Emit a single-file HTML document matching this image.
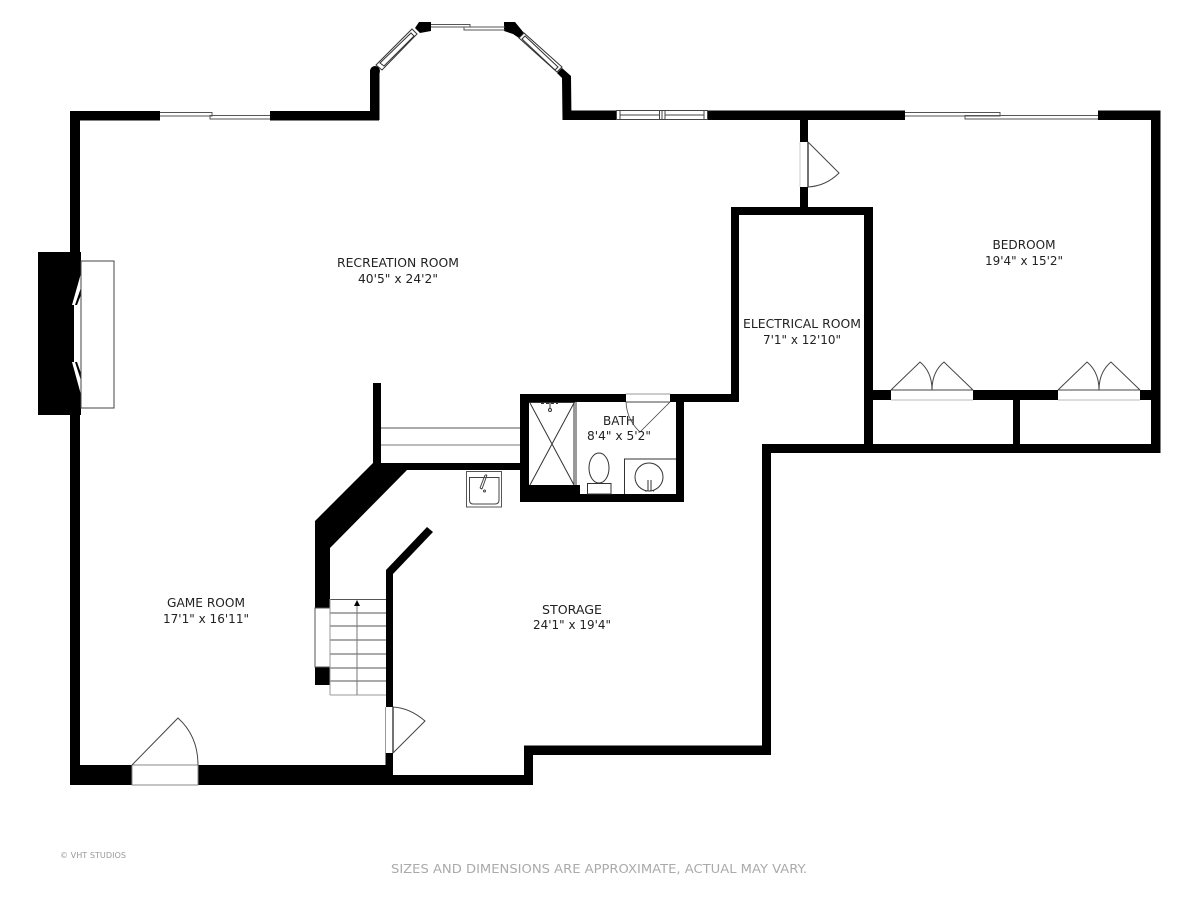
<!DOCTYPE html>
<html>
<head>
<meta charset="utf-8">
<style>
html,body{margin:0;padding:0;background:#fff;}
svg{display:block;}
text{font-family:"DejaVu Sans","Liberation Sans",sans-serif;font-size:12px;fill:#222;}
</style>
</head>
<body>
<svg width="1200" height="900" viewBox="0 0 1200 900" xmlns="http://www.w3.org/2000/svg">
<rect width="1200" height="900" fill="#fff"/>

<!-- black walls -->
<g fill="#000">
  <rect x="70" y="111" width="90" height="9.5"/>
  <rect x="270" y="111" width="109" height="9.5"/>
  <rect x="70" y="111" width="10" height="674"/>
  <rect x="370" y="70" width="9.5" height="50"/>
  <circle cx="375" cy="71" r="5"/>
  <polygon points="415,28 419,22 431,22 431,31 420,33"/>
  <polygon points="504,22 515,22 524,33 519,38 513,34 504,31"/>
  <polygon points="562,68 571,76 571.5,120 562.5,120 562,78 557,73"/>
  <rect x="562.5" y="110.5" width="54" height="9.5"/>
  <rect x="708" y="110.5" width="197" height="9.5"/>
  <rect x="1098" y="110.5" width="62" height="9.5"/>
  <rect x="1151" y="110.5" width="9.5" height="342.5"/>
  <rect x="762" y="444" width="398.500" height="9"/>
  <rect x="762" y="444" width="9" height="311"/>
  <rect x="524" y="745.500" width="247" height="9.500"/>
  <rect x="524" y="745.500" width="9" height="39.500"/>
  <rect x="386" y="775" width="147" height="10"/>
  <rect x="70" y="765" width="62" height="20"/>
  <rect x="198" y="765" width="195" height="20"/>
  <rect x="385.500" y="753" width="7.500" height="22"/>
  <rect x="386" y="573" width="7" height="134"/>
  <polygon points="386,570 427,527 433,532 393,574 393,580 386,580"/>

  <!-- door stub walls -->
  <rect x="800" y="120" width="8" height="22"/>
  <rect x="800" y="187" width="8" height="21"/>
  <!-- electrical -->
  <rect x="731" y="207" width="142" height="8"/>
  <rect x="731" y="207" width="8" height="195"/>
  <rect x="864" y="207" width="9" height="246"/>
  <!-- bedroom closets -->
  <rect x="873" y="390" width="18" height="10"/>
  <rect x="973" y="390" width="85" height="10"/>
  <rect x="1140" y="390" width="12" height="10"/>
  <rect x="1013" y="400" width="7" height="44"/>
  <!-- bath -->
  <rect x="520" y="394" width="106" height="8"/>
  <rect x="670" y="394" width="69" height="8"/>
  <rect x="520" y="394" width="9" height="108"/>
  <rect x="676" y="394" width="8" height="108"/>
  <rect x="520" y="494" width="164" height="8"/>
  <rect x="529" y="485" width="51" height="9"/>
  <!-- stair landing walls -->
  <rect x="373" y="383" width="8" height="82"/>
  <rect x="373" y="463" width="147" height="7"/>
  <polygon points="315,521 373,463 407,470 330,548 330,608 315,608"/>
  <rect x="315" y="667" width="15" height="18"/>
  <!-- fireplace -->
  <polygon points="38,252 81,252 81,415 38,415"/>
</g>

<!-- fireplace -->
<rect x="81" y="261" width="33" height="147" fill="#fff" stroke="#444" stroke-width="1"/>
<polygon points="80.500,275 72,305 74,305 74,362 72,362 80.500,393" fill="#fff"/>
<polygon points="80.500,289 75,305 77,305 80.500,296" fill="#000"/>
<polygon points="80.500,379 75,362 77,362 80.500,372" fill="#000"/>

<!-- windows: top -->
<g fill="none" stroke="#555" stroke-width="1">
  <polyline points="160,112.500 212,112.500 212,116 160,116"/>
  <polyline points="270,119 210,119 210,115.500 270,115.500"/>
  <polyline points="431,24.500 470,24.500 470,27 431,27"/>
  <polyline points="505,30 464,30 464,27 505,27"/>
  <polyline points="905,112.500 1000,112.500 1000,116 905,116"/>
  <polyline points="1098,119 965,119 965,115.500 1098,115.500"/>
</g>
<!-- bay windows diagonal -->
<g fill="#fff" stroke="#333" stroke-width="1">
  <polygon points="376,65 412,29 417,34 382,70"/>
  <polygon points="380,63 411,33 414,36 384,66" fill="none"/>
  <polygon points="519,38 524,33 562,67 557,72"/>
  <polygon points="522,39 525,36 558,67 555,70" fill="none"/>
</g>
<!-- fixed window -->
<g fill="#fff" stroke="#444" stroke-width="1">
  <rect x="616.500" y="110.500" width="91" height="9"/>
</g>
<g fill="none" stroke="#444" stroke-width="1">
  <line x1="620" y1="110.500" x2="620" y2="119.500"/>
  <line x1="704" y1="110.500" x2="704" y2="119.500"/>
  <line x1="659.500" y1="110.500" x2="659.500" y2="119.500"/>
  <line x1="662" y1="110.500" x2="662" y2="119.500"/>
  <line x1="665" y1="110.500" x2="665" y2="119.500"/>
  <line x1="620" y1="115" x2="659" y2="115"/>
  <line x1="665" y1="115" x2="704" y2="115"/>
</g>

<!-- doors -->
<g fill="none" stroke="#444" stroke-width="1">
  <!-- entry -->
  <rect x="132" y="765" width="66" height="20" fill="#fff" stroke="#888"/>
  <path d="M132,765 L178,718 Q198,736 198,765"/>
  <!-- storage -->
  <line x1="393" y1="707" x2="393" y2="753" stroke-width="1.500"/>
  <line x1="385.500" y1="707" x2="385.500" y2="753" stroke="#999"/>
  <path d="M393,753 L425,721 Q410,708 393,707"/>
  <!-- bedroom -->
  <line x1="808" y1="142" x2="808" y2="187" stroke-width="1.500"/>
  <line x1="800" y1="142" x2="800" y2="187" stroke="#ccc"/>
  <path d="M808,142 L839,173 Q826,186 808,187"/>
  <!-- bath -->
  <line x1="626" y1="402" x2="670" y2="402"/>
  <line x1="626" y1="394" x2="670" y2="394" stroke="#999"/>
  <path d="M670,402 L640,432 Q627,420 626,402" stroke-width="0.800"/>
  <!-- closets -->
  <line x1="891" y1="390" x2="973" y2="390"/>
  <line x1="891" y1="400" x2="973" y2="400" stroke="#bbb"/>
  <path d="M891,390 L920,362 Q932,372 932,390 Q932,372 944,362 L973,390"/>
  <line x1="1058" y1="390" x2="1140" y2="390"/>
  <line x1="1058" y1="400" x2="1140" y2="400" stroke="#bbb"/>
  <path d="M1058,390 L1087,362 Q1099,372 1099,390 Q1099,372 1111,362 L1140,390"/>
</g>

<!-- stairs -->
<g fill="none" stroke="#555" stroke-width="1">
  <line x1="381" y1="428" x2="520" y2="428"/>
  <line x1="381" y1="445" x2="520" y2="445" stroke="#777"/>
  <rect x="315" y="608" width="15" height="59" fill="#fff"/>
  <line x1="330" y1="599.500" x2="386" y2="599.500"/>
  <line x1="330" y1="613" x2="386" y2="613"/>
  <line x1="330" y1="626" x2="386" y2="626"/>
  <line x1="330" y1="640" x2="386" y2="640"/>
  <line x1="330" y1="654" x2="386" y2="654"/>
  <line x1="330" y1="668" x2="386" y2="668"/>
  <line x1="330" y1="681" x2="386" y2="681"/>
  <line x1="330" y1="695" x2="386" y2="695" stroke="#999"/>
  <line x1="330" y1="599" x2="330" y2="695" stroke="#999"/>
  <line x1="357" y1="604" x2="357" y2="695" stroke="#777"/>
</g>
<polygon points="357,600 360,606 354,606" fill="#000"/>

<!-- utility sink -->
<g fill="none" stroke="#444" stroke-width="1">
  <rect x="466.500" y="471.500" width="35" height="35.500" stroke="#555"/>
  <path d="M469.500,477.500 L499,477.500 L499,500 Q499,504 495,504 L473,504 Q469.500,504 469.500,500 Z"/>
  <path d="M485,475 L480,488 M487,475 L482,489 M485,475 L487,475 M480,488 L482,489"/>
  <circle cx="484.500" cy="491" r="1"/>
</g>

<!-- shower -->
<g fill="none" stroke="#333" stroke-width="1">
  <line x1="529" y1="402.500" x2="575" y2="402.500"/>
  <line x1="574" y1="402" x2="574" y2="485"/>
  <line x1="576" y1="402" x2="576" y2="485"/>
  <line x1="530" y1="403" x2="574" y2="485"/>
  <line x1="574" y1="403" x2="530" y2="485"/>
  <line x1="541" y1="403" x2="558" y2="403" stroke-width="2" stroke-dasharray="3,2"/>
  <line x1="550" y1="402" x2="550" y2="409"/>
  <circle cx="550" cy="410" r="1.500"/>
</g>

<!-- toilet -->
<g fill="#fff" stroke="#333" stroke-width="1">
  <ellipse cx="599" cy="468" rx="10" ry="15"/>
  <rect x="587.500" y="483.500" width="23.500" height="10.500"/>
</g>
<!-- vanity -->
<g fill="none" stroke="#333" stroke-width="1">
  <polyline points="624.500,494 624.500,459 676,459"/>
  <circle cx="649" cy="477" r="14"/>
  <line x1="648" y1="480" x2="648" y2="491"/>
  <line x1="651" y1="480" x2="651" y2="491"/>
  <line x1="645" y1="491" x2="654" y2="491" stroke-dasharray="2,2"/>
</g>

<!-- labels -->
<g text-anchor="middle">
  <text x="398" y="267" textLength="122" lengthAdjust="spacingAndGlyphs">RECREATION ROOM</text>
  <text x="398" y="283" textLength="80" lengthAdjust="spacingAndGlyphs">40'5" x 24'2"</text>
  <text x="1024" y="249" textLength="63" lengthAdjust="spacingAndGlyphs">BEDROOM</text>
  <text x="1024" y="265" textLength="78" lengthAdjust="spacingAndGlyphs">19'4" x 15'2"</text>
  <text x="802" y="328" textLength="118" lengthAdjust="spacingAndGlyphs">ELECTRICAL ROOM</text>
  <text x="802" y="344" textLength="78" lengthAdjust="spacingAndGlyphs">7'1" x 12'10"</text>
  <text x="619" y="425" textLength="32" lengthAdjust="spacingAndGlyphs">BATH</text>
  <text x="619" y="440" textLength="64" lengthAdjust="spacingAndGlyphs">8'4" x 5'2"</text>
  <text x="206" y="607" textLength="78" lengthAdjust="spacingAndGlyphs">GAME ROOM</text>
  <text x="206" y="623" textLength="86" lengthAdjust="spacingAndGlyphs">17'1" x 16'11"</text>
  <text x="572" y="614" textLength="60" lengthAdjust="spacingAndGlyphs">STORAGE</text>
  <text x="572" y="629" textLength="78" lengthAdjust="spacingAndGlyphs">24'1" x 19'4"</text>
</g>
<text x="60" y="858" textLength="66" lengthAdjust="spacingAndGlyphs" style="font-size:8px;fill:#999">© VHT STUDIOS</text>
<text x="391" y="873" textLength="416" lengthAdjust="spacingAndGlyphs" style="font-size:12px;fill:#aaa">SIZES AND DIMENSIONS ARE APPROXIMATE, ACTUAL MAY VARY.</text>
</svg>
</body>
</html>
